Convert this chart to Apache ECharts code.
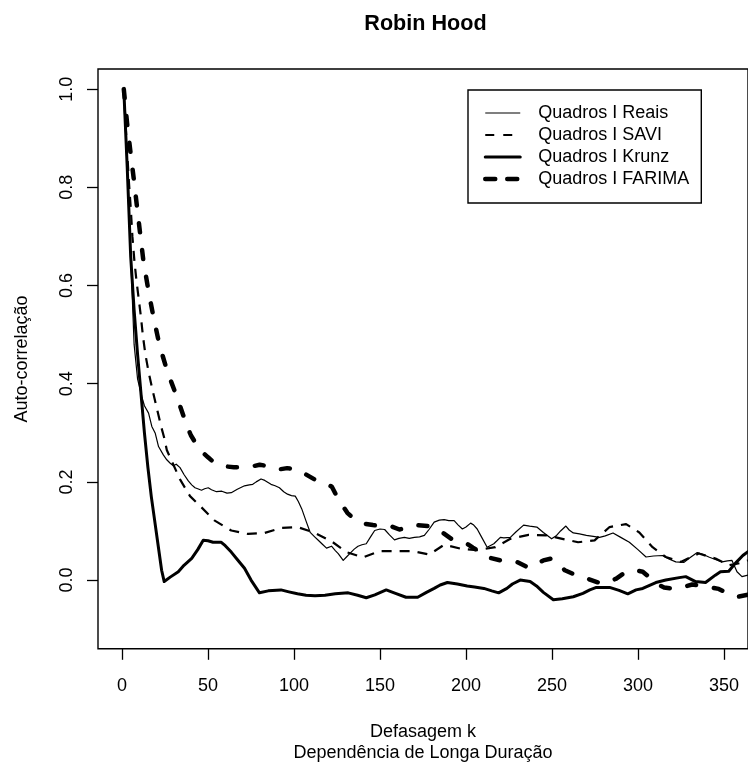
<!DOCTYPE html>
<html>
<head>
<meta charset="utf-8">
<script src="https://cdn.jsdelivr.net/npm/echarts@6/dist/echarts.min.js"></script>
<style>
  html, body { margin: 0; padding: 0; background: #fff; }
  #chart { width: 748px; height: 769px; }
</style>
</head>
<body>
<div id="chart"></div>
<script>
// Autocorrelation by lag for the Robin Hood frame series
const lagsReais = [1, 3, 5, 7, 9, 11.5, 13, 15.4, 17.3, 19.3, 21.2, 24, 26, 28, 29.8, 31.5, 33.7, 36, 38.5, 40.5, 42.4, 44, 46.2, 48, 50.1, 52, 54.9, 58, 61, 63.5, 67, 71.2, 74, 76, 78, 80.8, 83, 86.6, 89, 91.5, 94, 96.2, 98.5, 100.7, 102.5, 104.5, 107, 109.4, 112, 114.1, 116.5, 118.9, 121.8, 124, 125.7, 128.6, 130.5, 132.4, 135, 137.2, 139.5, 142, 144.5, 146.9, 150, 152.7, 155.5, 158.4, 161, 164.2, 167, 170, 173, 175.8, 178.5, 181.5, 184.5, 187.3, 190, 193.1, 195.5, 197.9, 200, 202.7, 204.5, 206.5, 209, 212.3, 214, 216.2, 218, 220, 222, 225.8, 229, 233.5, 237, 241.2, 245, 249.8, 252.7, 255, 258.1, 260, 262.4, 266, 270, 274, 277.7, 281, 285.5, 290, 295, 300, 304.7, 309, 314.3, 318, 322, 326.8, 330, 334.5, 338, 341.2, 345, 349, 352, 354.7, 357.6, 360.5, 364];
const acfReais = [1.0, 0.83, 0.66, 0.48, 0.41, 0.373, 0.355, 0.34, 0.313, 0.299, 0.272, 0.255, 0.245, 0.238, 0.233, 0.236, 0.229, 0.215, 0.202, 0.194, 0.188, 0.186, 0.183, 0.186, 0.188, 0.184, 0.18, 0.181, 0.177, 0.178, 0.185, 0.192, 0.194, 0.195, 0.2, 0.206, 0.203, 0.195, 0.192, 0.188, 0.18, 0.175, 0.172, 0.171, 0.16, 0.145, 0.12, 0.097, 0.088, 0.081, 0.073, 0.065, 0.069, 0.06, 0.054, 0.04, 0.047, 0.054, 0.063, 0.069, 0.072, 0.074, 0.088, 0.101, 0.104, 0.103, 0.092, 0.082, 0.085, 0.087, 0.085, 0.087, 0.088, 0.091, 0.103, 0.118, 0.122, 0.123, 0.121, 0.121, 0.112, 0.104, 0.108, 0.116, 0.112, 0.104, 0.088, 0.067, 0.07, 0.074, 0.08, 0.087, 0.086, 0.087, 0.098, 0.112, 0.11, 0.108, 0.097, 0.084, 0.091, 0.1, 0.11, 0.102, 0.096, 0.094, 0.091, 0.089, 0.087, 0.09, 0.096, 0.087, 0.077, 0.062, 0.047, 0.049, 0.05, 0.043, 0.037, 0.036, 0.045, 0.056, 0.052, 0.047, 0.042, 0.037, 0.039, 0.04, 0.017, 0.007, 0.01];

const lagsSavi = [1, 2, 3, 4, 5, 6, 7.2, 8.3, 9.6, 11, 12.1, 13.5, 15.4, 17.7, 20.2, 22.7, 24.5, 26, 28.9, 33.7, 39.5, 46.2, 53.9, 63.5, 73.2, 82.8, 92.4, 102, 112.2, 121.8, 130.5, 140.1, 149.8, 158.4, 169, 178.6, 187.3, 196.9, 206.5, 217.1, 225.8, 236.4, 247, 256, 265.2, 274.8, 283.5, 293.1, 300.8, 308.5, 316.2, 324.9, 335.4, 345.1, 352.8, 360, 364];
const acfSavi = [1.0, 0.93, 0.87, 0.81, 0.76, 0.7, 0.649, 0.612, 0.575, 0.535, 0.498, 0.461, 0.424, 0.387, 0.35, 0.313, 0.29, 0.265, 0.242, 0.205, 0.171, 0.148, 0.121, 0.101, 0.094, 0.096, 0.106, 0.108, 0.096, 0.079, 0.057, 0.046, 0.059, 0.059, 0.059, 0.052, 0.072, 0.064, 0.061, 0.067, 0.084, 0.092, 0.091, 0.084, 0.077, 0.081, 0.108, 0.114, 0.097, 0.067, 0.047, 0.037, 0.054, 0.044, 0.03, 0.035, 0.04];

const lagsKrunz = [1, 3, 5, 7, 9, 11, 13, 15, 17, 19, 21, 23, 24.5, 28, 32.7, 36, 40.5, 44, 47.2, 50, 52.9, 57.7, 60, 63.5, 67, 71.2, 75, 79.9, 85, 92.4, 97, 102, 107, 112.2, 118, 124, 131.5, 137, 142, 147, 153.6, 159, 165.1, 171.9, 177, 181.5, 185, 189.2, 195, 200.7, 205, 210.4, 215, 219, 223.8, 227, 231.5, 237.3, 241, 245, 250.8, 256, 262.4, 268, 272, 275.8, 283.5, 289, 294.1, 298.9, 302.8, 310.4, 316.2, 324, 327.8, 333.5, 339.3, 345, 348, 352.8, 356.6, 361, 364];
const acfKrunz = [1.0, 0.84, 0.66, 0.55, 0.46, 0.38, 0.3, 0.23, 0.17, 0.12, 0.07, 0.02, -0.003, 0.006, 0.017, 0.03, 0.044, 0.062, 0.081, 0.08, 0.077, 0.077, 0.07, 0.057, 0.042, 0.024, 0.0, -0.026, -0.022, -0.02, -0.024, -0.028, -0.031, -0.032, -0.031, -0.028, -0.026, -0.031, -0.036, -0.03, -0.02, -0.027, -0.035, -0.035, -0.025, -0.017, -0.01, -0.005, -0.008, -0.012, -0.014, -0.017, -0.022, -0.026, -0.017, -0.008, 0.0, -0.003, -0.012, -0.025, -0.04, -0.038, -0.034, -0.027, -0.02, -0.015, -0.015, -0.021, -0.028, -0.02, -0.017, -0.005, 0.0, 0.005, 0.007, -0.003, -0.005, 0.01, 0.017, 0.018, 0.034, 0.05, 0.058];

const lagsFarima = [1, 2.9, 4.8, 6.8, 8.7, 10.6, 12.3, 15.4, 18.3, 21.8, 26.4, 32.2, 37.5, 40, 44.3, 46.2, 50, 54, 58.7, 65, 70, 75.1, 80, 85, 90.5, 96, 102.7, 107, 112, 118, 122, 125, 127.6, 131, 135, 139.1, 145.9, 150, 155.5, 161.3, 166, 170.9, 177.7, 183, 186.3, 191.5, 196, 200.7, 204, 208.4, 214.2, 220, 225, 229.6, 236.4, 240.5, 245, 249.8, 253.5, 257.5, 263.3, 268, 272.9, 278.7, 283, 287.4, 293.1, 298, 302.8, 307.6, 311, 315.2, 322, 326.5, 331.6, 337.4, 342, 347, 353.7, 358, 364];
const acfFarima = [1.0, 0.931, 0.874, 0.817, 0.76, 0.703, 0.653, 0.588, 0.535, 0.478, 0.424, 0.37, 0.316, 0.295, 0.27, 0.262, 0.25, 0.238, 0.232, 0.23, 0.23, 0.231, 0.235, 0.232, 0.225, 0.228, 0.225, 0.215, 0.205, 0.198, 0.19, 0.17, 0.155, 0.137, 0.124, 0.116, 0.112, 0.11, 0.111, 0.103, 0.107, 0.112, 0.11, 0.104, 0.097, 0.084, 0.078, 0.074, 0.066, 0.057, 0.045, 0.04, 0.04, 0.037, 0.025, 0.032, 0.04, 0.044, 0.033, 0.02, 0.011, 0.006, 0.0, -0.007, -0.004, 0.003, 0.017, 0.02, 0.017, 0.003, -0.008, -0.015, -0.018, -0.014, -0.009, -0.012, -0.015, -0.018, -0.03, -0.034, -0.03];

const seriesNames = ['Quadros I Reais', 'Quadros I SAVI', 'Quadros I Krunz', 'Quadros I FARIMA'];
const xTicks = [0, 50, 100, 150, 200, 250, 300, 350];
const yTicks = [0.0, 0.2, 0.4, 0.6, 0.8, 1.0];

const FONT = '"Liberation Sans", Arial, Helvetica, sans-serif';

// stroke of each series, shared by the plotted line and its legend key
const lineStyles = [
  { color: '#000', width: 1.2, type: 'solid', cap: 'butt', join: 'round' },
  { color: '#000', width: 2.2, type: [10, 8], cap: 'butt', join: 'round' },
  { color: '#000', width: 3, type: 'solid', cap: 'round', join: 'round' },
  { color: '#000', width: 4.5, type: [9, 18], cap: 'round', join: 'round' }
];
const legendLineStyles = [
  { color: '#000', width: 1.2, type: 'solid' },
  { color: '#000', width: 2.2, type: [9, 9] },
  { color: '#000', width: 3, type: 'solid' },
  { color: '#000', width: 4.5, type: [10, 12] }
];

function pairs(xs, ys) { return xs.map((x, i) => [x, ys[i]]); }

const chart = echarts.init(document.getElementById('chart'), null, { renderer: 'canvas' });

const GRID = { left: 98, top: 69, width: 655, height: 585.3 };
const seriesData = [
  pairs(lagsReais, acfReais),
  pairs(lagsSavi, acfSavi),
  pairs(lagsKrunz, acfKrunz),
  pairs(lagsFarima, acfFarima)
];

chart.setOption({
  animation: false,
  backgroundColor: '#fff',
  graphic: [{
    type: 'text',
    x: GRID.left + GRID.width / 2,
    y: 24,
    style: {
      text: 'Robin Hood',
      font: 'bold 21.6px ' + FONT,
      fill: '#000',
      textAlign: 'center',
      textVerticalAlign: 'middle'
    }
  }],
  grid: {
    left: GRID.left, top: GRID.top, width: GRID.width, height: GRID.height,
    show: true, borderColor: '#000', borderWidth: 1.4, backgroundColor: 'transparent'
  },
  legend: {
    orient: 'vertical',
    left: 468, top: 90,
    padding: [12, 12, 13, 15],
    itemWidth: 35, itemHeight: 14, itemGap: 0,
    borderColor: '#000', borderWidth: 1.4, borderRadius: 0,
    selectedMode: false,
    // line-only keys: the marker drawn by default on line-series keys is made invisible
    itemStyle: { color: 'transparent', borderColor: 'transparent', borderWidth: 0, opacity: 0 },
    textStyle: { fontSize: 18, fontFamily: FONT, color: '#000', lineHeight: 22, padding: [0, 0, 0, 13] },
    data: seriesNames.map((name, i) => ({ name: name, lineStyle: legendLineStyles[i] }))
  },
  xAxis: {
    type: 'value',
    min: -14, max: 364,
    name: 'Defasagem k\nDependência de Longa Duração',
    nameLocation: 'middle',
    nameGap: 72,
    nameTextStyle: { fontSize: 18, fontFamily: FONT, color: '#000', lineHeight: 21.6 },
    axisLine: { show: false, onZero: false },
    splitLine: { show: false },
    axisTick: { show: true, inside: false, length: 11, customValues: xTicks, lineStyle: { color: '#000', width: 1.3 } },
    axisLabel: { customValues: xTicks, fontSize: 18, fontFamily: FONT, color: '#000', margin: 28 }
  },
  yAxis: {
    type: 'value',
    min: -0.14, max: 1.041,
    name: 'Auto-correlação',
    nameLocation: 'middle',
    nameRotate: 90,
    nameGap: 67,
    nameTextStyle: { fontSize: 18, fontFamily: FONT, color: '#000' },
    axisLine: { show: false, onZero: false },
    splitLine: { show: false },
    axisTick: { show: true, inside: false, length: 11, customValues: yTicks, lineStyle: { color: '#000', width: 1.3 } },
    axisLabel: {
      customValues: yTicks, rotate: 90, fontSize: 18, fontFamily: FONT, color: '#000', margin: 22,
      formatter: v => v.toFixed(1)
    }
  },
  series: seriesNames.map((name, i) => ({
    name: name,
    type: 'line',
    symbol: 'none',
    data: seriesData[i],
    lineStyle: lineStyles[i],
    itemStyle: { color: '#000' },
    z: 4 - i
  }))
});
</script>
</body>
</html>
